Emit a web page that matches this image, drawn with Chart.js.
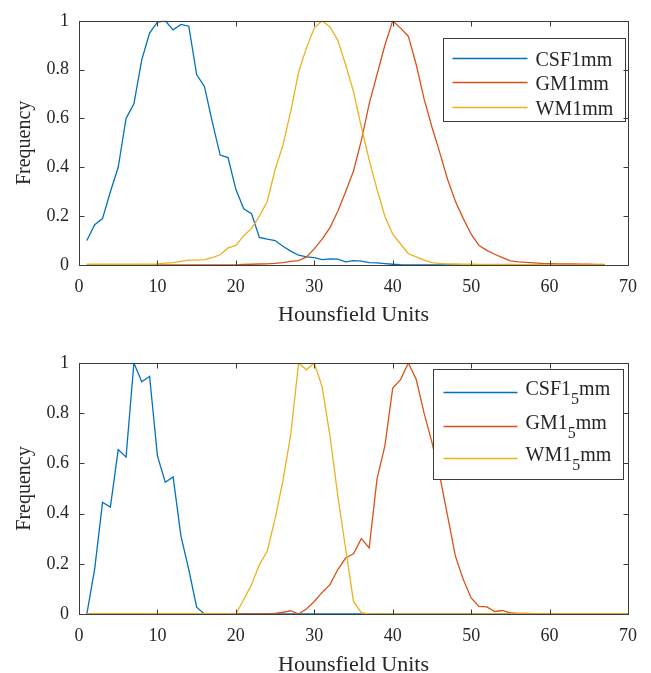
<!DOCTYPE html>
<html>
<head>
<meta charset="utf-8">
<script src="https://cdn.jsdelivr.net/npm/chart.js@4.4.1/dist/chart.umd.min.js"></script>
<style>
  html, body { margin: 0; padding: 0; background: #fff; }
  #wrap { position: relative; width: 651px; height: 673px; overflow: hidden; }
  canvas { position: absolute; left: 0; }
</style>
</head>
<body>
<div id="wrap">
  <canvas id="top" width="651" height="336" style="top:0"></canvas>
  <canvas id="bottom" width="651" height="337" style="top:336px"></canvas>
</div>
<script>
// --- data (x = Hounsfield units, y = normalised frequency) ---
const HU_1MM = [1,2,3,4,5,6,7,8,9,10,11,12,13,14,15,16,17,18,19,20,21,22,23,24,25,26,27,28,29,30,
  31,32,33,34,35,36,37,38,39,40,41,42,43,44,45,46,47,48,49,50,51,52,53,54,55,56,57,58,59,60,
  61,62,63,64,65,66,67];
const CSF_1MM = [0.10,0.165,0.19,0.30,0.40,0.60,0.66,0.84,0.95,0.995,1.0,0.963,0.985,0.978,0.78,0.73,0.585,0.45,0.44,0.31,
  0.23,0.21,0.113,0.106,0.10,0.077,0.057,0.04,0.033,0.03,0.022,0.025,0.024,0.013,0.018,0.016,0.01,0.009,0.006,0.003,
  0.001,0,0,0,0,0,0,0,0,0,0,0,0,0,0,0,0,0,0,0,0,0,0,0,0,0,0];
const GM_1MM = [0,0,0,0,0,0,0,0,0,0,0,0,0,0,0,0,0,0,0,0,
  0.002,0.003,0.004,0.005,0.007,0.01,0.015,0.018,0.033,0.066,0.106,0.153,0.22,0.30,0.385,0.51,0.66,0.78,0.90,1.0,
  0.97,0.936,0.82,0.68,0.565,0.46,0.35,0.26,0.19,0.126,0.08,0.06,0.044,0.03,0.017,0.013,0.011,0.009,0.007,0.006,
  0.005,0.004,0.004,0.003,0.003,0.002,0.002];
const WM_1MM = [0.003,0.003,0.003,0.003,0.003,0.003,0.003,0.003,0.003,0.005,0.008,0.01,0.015,0.02,0.02,0.022,0.03,0.042,0.07,0.08,
  0.12,0.15,0.20,0.26,0.39,0.49,0.63,0.79,0.89,0.97,1.0,0.975,0.92,0.82,0.71,0.565,0.43,0.31,0.20,0.126,
  0.086,0.046,0.033,0.02,0.01,0.007,0.005,0.004,0.003,0.003,0.002,0.002,0.002,0.002,0.002,0.001,0.001,0.001,0.001,0.001,
  0,0,0,0,0,0,0];

const HU_15MM = [1,2,3,4,5,6,7,8,9,10,11,12,13,14,15,16,17,18,19,20,21,22,23,24,25,26,27,28,29,30,
  31,32,33,34,35,36,37,38,39,40,41,42,43,44,45,46,47,48,49,50,51,52,53,54,55,56,57,58,59,60,
  61,62,63,64,65,66,67,68,69,70];
const CSF_15MM = [0,0.18,0.445,0.426,0.655,0.625,1.0,0.925,0.947,0.63,0.525,0.546,0.31,0.177,0.027,0,0,0,0,0,
  0,0,0,0,0,0,0,0,0,0,0,0,0,0,0,0,0,0,0,0,0,0,0,0,0,0,0,0,0,0,
  0,0,0,0,0,0,0,0,0,0,0,0,0,0,0,0,0,0,0,0];
const GM_15MM = [0,0,0,0,0,0,0,0,0,0,0,0,0,0,0,0,0,0,0,0,
  0,0,0,0,0.002,0.007,0.013,0,0.02,0.05,0.086,0.117,0.177,0.223,0.24,0.30,0.263,0.538,0.67,0.90,
  0.934,1.0,0.934,0.80,0.684,0.55,0.39,0.23,0.137,0.064,0.03,0.028,0.01,0.014,0.004,0.002,0.002,0.001,0,0,
  0,0,0,0,0,0,0,0,0,0];
const WM_15MM = [0,0,0,0,0,0,0,0,0,0,0,0,0,0,0,0,0,0,0,0,
  0.057,0.117,0.197,0.25,0.38,0.53,0.715,1.0,0.973,1.0,0.905,0.71,0.47,0.26,0.05,0.005,0,0,0,0,
  0,0,0,0,0,0,0,0,0,0,0,0,0,0,0,0,0,0,0,0,0,0,0,0,0,0,0,0,0,0];

const X_TICKS = [0, 10, 20, 30, 40, 50, 60, 70];
const Y_TICKS = [0, 0.2, 0.4, 0.6, 0.8, 1];

// --- styling ---
const BLUE = '#0072BD', RED = '#D95319', YELLOW = '#EDB120';
const TEXT_COLOR = '#262626';
const AXIS_COLOR = '#3c3c3c';
const SERIF = "'Liberation Serif', 'Times New Roman', serif";
const TICK_LEN = 5;

const SUBS = '₀₁₂₃₄₅₆₇₈₉';

// draws the MATLAB style box, inward ticks on all four sides and the boxed legend
const matlabLook = {
  id: 'matlabLook',
  afterDatasetsDraw(chart, args, opts) {
    const { ctx, chartArea: a, scales: { x, y } } = chart;
    const L = Math.round(a.left) + 0.5, R = Math.round(a.right) + 0.5;
    const T = Math.round(a.top) + 0.5, B = Math.round(a.bottom) + 0.5;
    ctx.save();

    // legend first, so the axis ticks sit on top of it
    const bx = Math.round(a.right - opts.right - opts.width) + 0.5;
    const by = Math.round(a.top + opts.top) + 0.5;
    ctx.fillStyle = '#fff';
    ctx.fillRect(bx, by, opts.width, opts.height);
    ctx.strokeStyle = AXIS_COLOR;
    ctx.lineWidth = 1;
    ctx.strokeRect(bx, by, opts.width, opts.height);
    chart.data.datasets.forEach((ds, i) => {
      const ry = Math.round(by + opts.rows[i]) + 0.5;
      ctx.strokeStyle = ds.borderColor;
      ctx.lineWidth = 1.3;
      ctx.beginPath();
      ctx.moveTo(bx + opts.lineFrom, ry);
      ctx.lineTo(bx + opts.lineTo, ry);
      ctx.stroke();
      // label text, subscript digits drawn smaller and lower
      ctx.fillStyle = TEXT_COLOR;
      ctx.textBaseline = 'alphabetic';
      ctx.textAlign = 'left';
      let tx = bx + opts.textX;
      for (const ch of ds.label) {
        const k = SUBS.indexOf(ch);
        if (k >= 0) {
          ctx.font = opts.subSize + 'px ' + SERIF;
          ctx.fillText(String(k), tx, ry + opts.subBase);
          tx += ctx.measureText(String(k)).width;
        } else {
          ctx.font = opts.fontSize + 'px ' + SERIF;
          ctx.fillText(ch, tx, ry + opts.base);
          tx += ctx.measureText(ch).width;
        }
      }
    });

    ctx.strokeStyle = AXIS_COLOR;
    ctx.lineWidth = 1;
    ctx.beginPath();
    x.ticks.forEach(t => {
      const px = Math.round(x.getPixelForValue(t.value)) + 0.5;
      ctx.moveTo(px, B); ctx.lineTo(px, B - TICK_LEN);
      ctx.moveTo(px, T); ctx.lineTo(px, T + TICK_LEN);
    });
    y.ticks.forEach(t => {
      const py = Math.round(y.getPixelForValue(t.value)) + 0.5;
      ctx.moveTo(L, py); ctx.lineTo(L + TICK_LEN, py);
      ctx.moveTo(R, py); ctx.lineTo(R - TICK_LEN, py);
    });
    ctx.stroke();
    ctx.strokeRect(L, T, R - L, B - T);
    ctx.restore();
  }
};

function makeChart(id, xs, series, labels, fit, legendOpts) {
  const colors = [BLUE, RED, YELLOW];
  return new Chart(document.getElementById(id), {
    type: 'line',
    data: {
      datasets: series.map((s, i) => ({
        label: labels[i],
        data: xs.map((v, j) => ({ x: v, y: s[j] })),
        borderColor: colors[i],
        borderWidth: 1.3,
        pointRadius: 0,
        tension: 0,
        fill: false,
        order: 3 - i
      }))
    },
    options: {
      responsive: false,
      animation: false,
      events: [],
      layout: { padding: { left: 0, right: 23, top: fit.top, bottom: 0 } },
      scales: {
        x: {
          type: 'linear', min: 0, max: 70,
          afterBuildTicks: s => { s.ticks = X_TICKS.map(v => ({ value: v })); },
          afterFit: s => { s.height = fit.xHeight; },
          grid: { display: false, drawTicks: false },
          border: { display: false },
          ticks: { color: TEXT_COLOR, font: { family: SERIF, size: 18 }, padding: 11, maxRotation: 0 },
          title: { display: true, text: 'Hounsfield Units', color: TEXT_COLOR,
                   font: { family: SERIF, size: 22, lineHeight: 1 }, padding: { top: 0, bottom: fit.titlePad } }
        },
        y: {
          min: 0, max: 1,
          afterBuildTicks: s => { s.ticks = Y_TICKS.map(v => ({ value: v })); },
          afterFit: s => { s.width = 79; },
          grid: { display: false, drawTicks: false },
          border: { display: false },
          ticks: { color: TEXT_COLOR, font: { family: SERIF, size: 18 }, padding: 10,
                   callback: v => String(Number(v.toFixed(1))) },
          title: { display: true, text: 'Frequency', color: TEXT_COLOR,
                   font: { family: SERIF, size: 20, lineHeight: 1 }, padding: { top: 15, bottom: 0 } }
        }
      },
      plugins: {
        legend: { display: false },
        tooltip: { enabled: false },
        matlabLook: legendOpts
      }
    },
    plugins: [matlabLook]
  });
}

makeChart('top', HU_1MM, [CSF_1MM, GM_1MM, WM_1MM], ['CSF1mm', 'GM1mm', 'WM1mm'],
  { top: 14, xHeight: 71, titlePad: 10 },
  { right: 3, top: 17, width: 182, height: 83, rows: [19, 43, 68],
    lineFrom: 9, lineTo: 84, textX: 92, fontSize: 20, base: 7, subSize: 16, subBase: 11 });

makeChart('bottom', HU_15MM, [CSF_15MM, GM_15MM, WM_15MM], ['CSF1₅mm', 'GM1₅mm', 'WM1₅mm'],
  { top: 27, xHeight: 59, titlePad: -3 },
  { right: 5, top: 6, width: 190, height: 110, rows: [22, 56, 88],
    lineFrom: 10, lineTo: 84, textX: 92, fontSize: 20, base: 2, subSize: 16, subBase: 11 });
</script>
</body>
</html>
